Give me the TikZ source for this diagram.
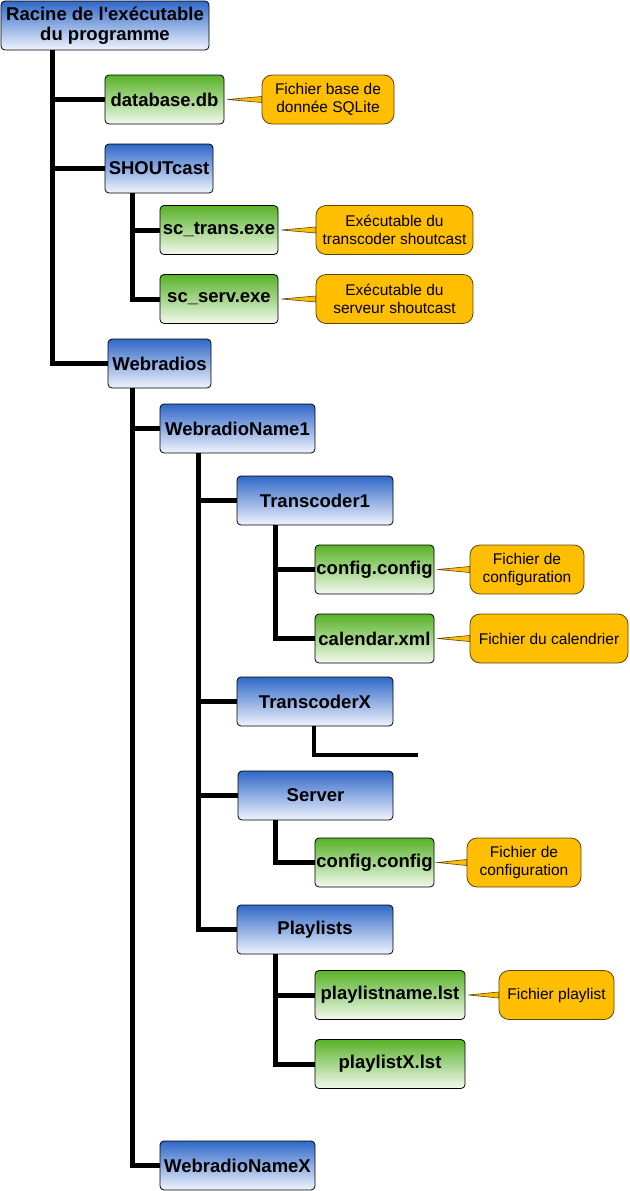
\documentclass[tikz,border=0pt]{standalone}
\usepackage{fontspec}
\setmainfont{Liberation Sans}
\usepackage{tikz}
\usetikzlibrary{positioning}

\definecolor{dirtop}{RGB}{48,104,200}
\definecolor{dirbottom}{RGB}{240,244,253}
\definecolor{filetop}{RGB}{88,178,40}
\definecolor{filebottom}{RGB}{242,249,238}
\definecolor{notefill}{RGB}{255,190,0}
\definecolor{noteline}{RGB}{90,70,10}

\begin{document}
\begin{tikzpicture}[
	x=1pt, y=-1pt,
	% Define styles for the boxes and the lines
	dir style/.style={draw=black, line width=0.8pt, rounded corners=4pt, top color=dirtop, bottom color=dirbottom,
		minimum height=49pt, inner sep=0pt, align=center, font=\fontsize{18.5}{20.5}\selectfont\bfseries},
	file style/.style={dir style, top color=filetop, bottom color=filebottom},
	note style/.style={draw=noteline, line width=0.8pt, rounded corners=10pt, fill=notefill,
		minimum height=49pt, inner sep=0pt, align=center, font=\fontsize{15.5}{17.5}\selectfont},
	branch style/.style={line width=5pt, black},
	pointer style/.style={draw=noteline, line width=0.6pt, fill=notefill}
	]
	\useasboundingbox (0,0) rectangle (629,1191);

	% Define and place your nodes
	\node[dir style, minimum width=208pt] (root) at (105, 25.5) {Racine de l\textquotesingle exécutable\\du programme};
	\node[file style, minimum width=119pt] (db) at (164.5, 99.5) {database.db};
	\node[note style, minimum width=132pt] (dbnote) at (328, 99.5) {Fichier base de\\donnée SQLite};
	\node[dir style, minimum width=108pt] (shout) at (159, 168.5) {SHOUTcast};
	\node[file style, minimum width=118pt] (trans) at (219, 230) {sc\_trans.exe};
	\node[note style, minimum width=157pt] (transnote) at (394.5, 230) {Exécutable du\\transcoder shoutcast};
	\node[file style, minimum width=118pt] (serv) at (219, 299) {sc\_serv.exe};
	\node[note style, minimum width=157pt] (servnote) at (394.5, 299) {Exécutable du\\serveur shoutcast};
	\node[dir style, minimum width=103pt] (radios) at (159.5, 363.5) {Webradios};
	\node[dir style, minimum width=155pt] (radio1) at (237.5, 428.5) {WebradioName1};
	\node[dir style, minimum width=156pt] (tc1) at (315, 500.5) {Transcoder1};
	\node[file style, minimum width=119pt] (cfg1) at (374.5, 569.5) {config.config};
	\node[note style, minimum width=114pt] (cfg1note) at (527, 569.5) {Fichier de\\configuration};
	\node[file style, minimum width=119pt] (cal) at (374.5, 638.5) {calendar.xml};
	\node[note style, minimum width=158pt] (calnote) at (549, 638.5) {Fichier du calendrier};
	\node[dir style, minimum width=156pt] (tcx) at (315, 701.5) {TranscoderX};
	\coordinate (tcxend) at (418, 755);
	\node[dir style, minimum width=155pt] (server) at (315.5, 795.5) {Server};
	\node[file style, minimum width=119pt] (cfg2) at (374.5, 862.5) {config.config};
	\node[note style, minimum width=114pt] (cfg2note) at (524, 862.5) {Fichier de\\configuration};
	\node[dir style, minimum width=156pt] (lists) at (315, 929.5) {Playlists};
	\node[file style, minimum width=150pt] (pl1) at (390, 995) {playlistname.lst};
	\node[note style, minimum width=115pt] (pl1note) at (556.5, 995) {Fichier playlist};
	\node[file style, minimum width=150pt] (plx) at (390, 1064) {playlistX.lst};
	\node[dir style, minimum width=155pt] (radiox) at (237.5, 1165.5) {WebradioNameX};

	% --- Draw the tree lines ---
	\draw[branch style] ([xshift=-53pt]root.south) |- (db.west);
	\draw[branch style] ([xshift=-53pt]root.south) |- (shout.west);
	\draw[branch style] ([xshift=-53pt]root.south) |- (radios.west);
	\draw[branch style] ([xshift=-27pt]shout.south) |- (trans.west);
	\draw[branch style] ([xshift=-27pt]shout.south) |- (serv.west);
	\draw[branch style] ([xshift=-27pt]radios.south) |- (radio1.west);
	\draw[branch style] ([xshift=-27pt]radios.south) |- (radiox.west);
	\draw[branch style] ([xshift=-39pt]radio1.south) |- (tc1.west);
	\draw[branch style] ([xshift=-39pt]radio1.south) |- (tcx.west);
	\draw[branch style] ([xshift=-39pt]radio1.south) |- (server.west);
	\draw[branch style] ([xshift=-39pt]radio1.south) |- (lists.west);
	\draw[branch style] ([xshift=-39.5pt]tc1.south) |- (cfg1.west);
	\draw[branch style] ([xshift=-39.5pt]tc1.south) |- (cal.west);
	\draw[branch style, line width=4pt] ([xshift=-1pt]tcx.south) |- (tcxend);
	\draw[branch style] ([xshift=-40pt]server.south) |- (cfg2.west);
	\draw[branch style] ([xshift=-40pt]lists.south) |- (pl1.west);
	\draw[branch style] ([xshift=-40pt]lists.south) |- (plx.west);

	% --- Draw the callout pointers ---
	\draw[pointer style] ([xshift=3pt]db.east) -- ([yshift=-3pt]dbnote.west) -- ([yshift=3pt]dbnote.west) -- cycle;
	\draw[pointer style] ([xshift=3pt]trans.east) -- ([yshift=-3pt]transnote.west) -- ([yshift=3pt]transnote.west) -- cycle;
	\draw[pointer style] ([xshift=3pt]serv.east) -- ([yshift=-3pt]servnote.west) -- ([yshift=3pt]servnote.west) -- cycle;
	\draw[pointer style] ([xshift=3pt]cfg1.east) -- ([yshift=-3pt]cfg1note.west) -- ([yshift=3pt]cfg1note.west) -- cycle;
	\draw[pointer style] ([xshift=3pt]cal.east) -- ([yshift=-3pt]calnote.west) -- ([yshift=3pt]calnote.west) -- cycle;
	\draw[pointer style] ([xshift=3pt]cfg2.east) -- ([yshift=-3pt]cfg2note.west) -- ([yshift=3pt]cfg2note.west) -- cycle;
	\draw[pointer style] ([xshift=3pt]pl1.east) -- ([yshift=-3pt]pl1note.west) -- ([yshift=3pt]pl1note.west) -- cycle;
\end{tikzpicture}
\end{document}
